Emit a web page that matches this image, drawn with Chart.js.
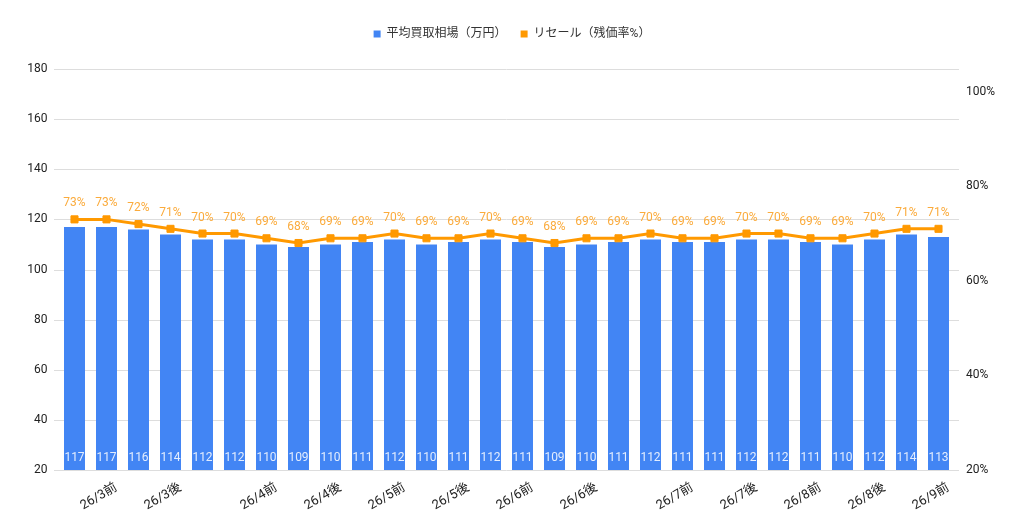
<!DOCTYPE html>
<html lang="ja">
<head>
<meta charset="utf-8">
<script src="https://cdn.jsdelivr.net/npm/chart.js@4.4.1/dist/chart.umd.min.js"></script>
<style>
  html, body { margin: 0; padding: 0; background: #fff; }
  #wrap { width: 1024px; height: 528px; }
</style>
</head>
<body>
<div id="wrap"><canvas id="grafico"></canvas></div>
<script>
// 横軸ラベル（表示されているものだけ）
const weekLabels = ['', '26/3前', '', '26/3後', '', '', '26/4前', '', '26/4後', '', '26/5前', '', '26/5後', '',
    '26/6前', '', '26/6後', '', '', '26/7前', '', '26/7後', '', '26/8前', '', '26/8後', '', '26/9前'];

// 平均買取相場（万円）
const avgPrice = [117, 117, 116, 114, 112, 112, 110, 109, 110, 111, 112, 110, 111, 112,
    111, 109, 110, 111, 112, 111, 111, 112, 112, 111, 110, 112, 114, 113];

// 残価率（%）
const resaleRate = [73, 73, 72, 71, 70, 70, 69, 68, 69, 69, 70, 69, 69, 70,
    69, 68, 69, 69, 70, 69, 69, 70, 70, 69, 69, 70, 71, 71];

const leftTicks = [20, 40, 60, 80, 100, 120, 140, 160, 180];
const rightTicks = [20, 40, 60, 80, 100];

const FONT = "Roboto, 'Noto Sans CJK JP', sans-serif";

// 目盛り線（プロット領域より少し広く引く）
const gridLines = {
    id: 'gridLines',
    beforeDatasetsDraw(chart) {
        const c = chart.ctx;
        const area = chart.chartArea;
        const y = chart.scales.y;
        c.save();
        c.strokeStyle = '#dddddd';
        c.lineWidth = 1;
        leftTicks.forEach(v => {
            const py = Math.round(y.getPixelForValue(v)) + 0.5;
            c.beginPath();
            c.moveTo(area.left - 4.5, py);
            c.lineTo(area.right + 4.5, py);
            c.stroke();
        });
        c.restore();
    }
};

// 凡例の下に余白を足す
const legendGap = {
    id: 'legendGap',
    beforeLayout(chart) {
        const lg = chart.legend;
        if (lg && !lg._gapDone) {
            const fit = lg.fit;
            lg.fit = function () { fit.call(this); this.height += 19; };
            lg._gapDone = true;
        }
    }
};

// 値ラベル
const valueLabels = {
    id: 'valueLabels',
    afterDatasetsDraw(chart) {
        const c = chart.ctx;
        const area = chart.chartArea;
        c.save();
        c.font = '12px ' + FONT;
        c.textAlign = 'center';
        c.textBaseline = 'middle';
        chart.getDatasetMeta(0).data.forEach((bar, i) => {
            c.fillStyle = 'rgba(255,255,255,0.85)';
            c.fillText(avgPrice[i], bar.x, area.bottom - 12);
        });
        chart.getDatasetMeta(1).data.forEach((pt, i) => {
            c.fillStyle = '#fbab3c';
            c.fillText(resaleRate[i] + '%', pt.x, pt.y - 16);
        });
        c.restore();
    }
};

new Chart(document.getElementById('grafico').getContext('2d'), {
    type: 'bar',
    data: {
        labels: weekLabels,
        datasets: [{
            type: 'bar',
            label: '平均買取相場（万円）',
            data: avgPrice,
            yAxisID: 'y',
            backgroundColor: '#4285f4',
            borderWidth: 0,
            barPercentage: 0.656,
            categoryPercentage: 1,
            pointStyle: 'rect',
            order: 1
        }, {
            type: 'line',
            label: 'リセール（残価率%）',
            data: resaleRate,
            yAxisID: 'y1',
            borderColor: '#ff9900',
            backgroundColor: '#ff9900',
            borderWidth: 3,
            pointStyle: 'rect',
            pointRadius: 5,
            pointBorderWidth: 1,
            tension: 0,
            order: 0
        }]
    },
    options: {
        responsive: true,
        maintainAspectRatio: false,
        animation: false,
        layout: { padding: { top: 14, left: 0, right: 0, bottom: 0 } },
        plugins: {
            legend: {
                position: 'top',
                labels: {
                    usePointStyle: true,
                    boxWidth: 7,
                    boxHeight: 7,
                    padding: 14,
                    color: '#333',
                    font: { family: FONT, size: 12 },
                    sort: (a, b) => a.datasetIndex - b.datasetIndex,
                    generateLabels(chart) {
                        return Chart.defaults.plugins.legend.labels.generateLabels(chart).map(item => {
                            item.lineWidth = 0;
                            item.pointStyle = 'rect';
                            return item;
                        });
                    }
                }
            },
            tooltip: { enabled: false }
        },
        scales: {
            x: {
                grid: { display: false },
                border: { display: false },
                ticks: {
                    autoSkip: false,
                    maxRotation: 30,
                    minRotation: 30,
                    labelOffset: 10,
                    color: '#222',
                    padding: 2,
                    font: { family: FONT, size: 13 }
                },
                afterFit(scale) { scale.height = 58; }
            },
            y: {
                position: 'left',
                min: 20,
                max: 180,
                grid: { display: false, drawTicks: false },
                border: { display: false },
                ticks: {
                    padding: 11,
                    color: '#222',
                    font: { family: FONT, size: 12 }
                },
                afterBuildTicks(scale) {
                    scale.ticks = leftTicks.map(v => ({ value: v }));
                },
                afterFit(scale) { scale.width = 58.5; }
            },
            y1: {
                position: 'right',
                min: 20,
                max: 104.8,
                grid: { display: false, drawTicks: false },
                border: { display: false },
                ticks: {
                    padding: 11.5,
                    color: '#222',
                    font: { family: FONT, size: 12 },
                    callback: v => v + '%'
                },
                afterBuildTicks(scale) {
                    scale.ticks = rightTicks.map(v => ({ value: v }));
                },
                afterFit(scale) { scale.width = 69.5; }
            }
        }
    },
    plugins: [gridLines, legendGap, valueLabels]
});
</script>
</body>
</html>
